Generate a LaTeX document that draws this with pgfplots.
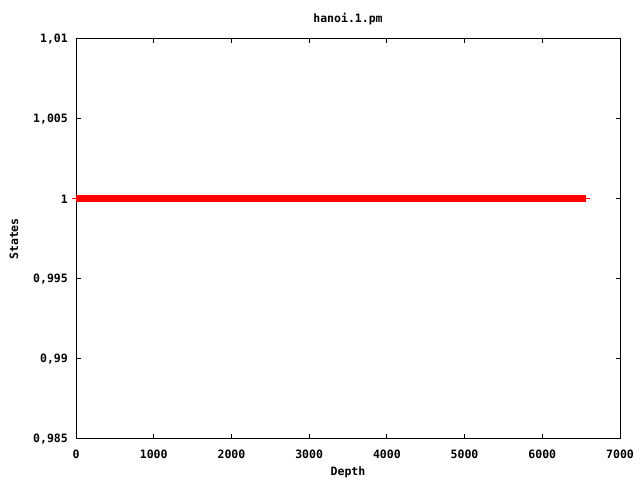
\documentclass[border=0pt]{standalone}
\usepackage{fontspec}
\setmonofont{DejaVu Sans Mono}
\usepackage{pgfplots}
\pgfplotsset{compat=1.18}
\begin{document}
\begin{tikzpicture}[x=1bp,y=1bp]
\useasboundingbox (0,0) rectangle (640,480);
\begin{axis}[
  at={(76bp,41bp)}, anchor=south west,
  scale only axis, width=544bp, height=400bp,
  xmin=0, xmax=7000, ymin=0.985, ymax=1.01,
  xtick={0,1000,2000,3000,4000,5000,6000,7000},
  ytick={0.985,0.99,0.995,1,1.005,1.01},
  yticklabels={{0,985},{0,99},{0,995},{1},{1,005},{1,01}},
  tick align=inside, major tick length=4.5bp,
  every tick/.style={black, line width=1bp},
  axis line style={line width=1bp},
  /pgf/number format/1000 sep={},
  /pgf/number format/assume math mode=true,
  font=\fontsize{11.5bp}{13bp}\selectfont\ttfamily\bfseries,
  xticklabel style={anchor=north, inner sep=0pt, yshift=-11bp},
  yticklabel style={anchor=east, inner sep=0pt, xshift=-8bp},
  title={hanoi.1.pm},
  title style={at={(axis description cs:0.5,1.035)}, anchor=center, inner sep=0pt},
  xlabel={Depth},
  xlabel style={at={(axis description cs:0.5,-0.0825)}, anchor=center, inner sep=0pt},
  ylabel={States},
  ylabel style={at={(axis description cs:-0.114,0.5)}, anchor=center, inner sep=0pt},
  clip=false,
]
\addplot[red, line width=1bp] coordinates {(-57,1) (6617,1)};
\addplot[red, line width=7bp, line cap=butt] coordinates {(0,1) (6560,1)};
\end{axis}
\end{tikzpicture}
\end{document}
